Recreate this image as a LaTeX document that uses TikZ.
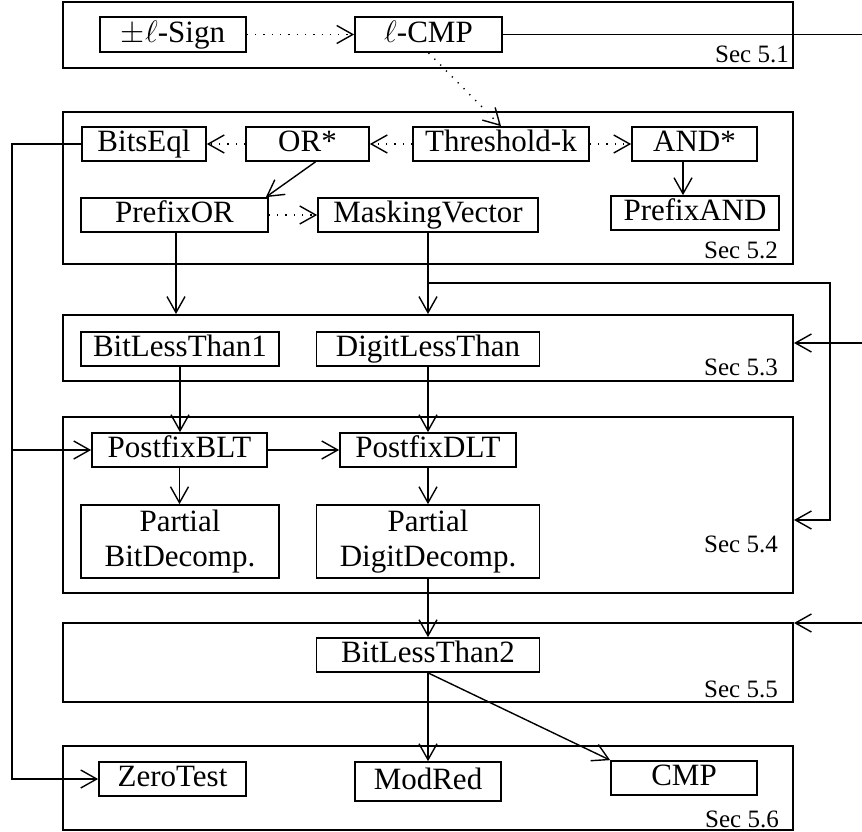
\RequirePackage{fix-cm}
\documentclass[tikz,border=0pt]{standalone}
\usepackage{fontspec}
\setmainfont{Liberation Serif}
\usetikzlibrary{arrows.meta}
\begin{document}
\begin{tikzpicture}[x=1pt,y=-1pt,
  box/.style={draw, line width=1.7pt, inner sep=0pt, font=\fontsize{31}{35}\selectfont, text height=19.5pt, text depth=4pt},
  mbox/.style={draw, line width=1.7pt, inner sep=0pt, font=\fontsize{31}{35}\selectfont, align=center},
  sec/.style={draw, line width=2pt, minimum width=730pt, inner sep=0pt},
  lbl/.style={font=\fontsize{25}{30}\selectfont, inner sep=0pt, anchor=base east},
  ln/.style={line width=1.4pt},
  arr/.style={ln, -{Straight Barb[length=16pt,width=18pt]}},
  dotarr/.style={arr, dash pattern=on 1.3pt off 7pt}]
\useasboundingbox (0,0) rectangle (862,832);

% sections
\node[sec, minimum height=66pt]  (s1) at (428,35) {};
\node[sec, minimum height=152pt] (s2) at (428,188) {};
\node[sec, minimum height=66pt]  (s3) at (428,348) {};
\node[sec, minimum height=176pt] (s4) at (428,505) {};
\node[sec, minimum height=79pt]  (s5) at (428,662.5) {};
\node[sec, minimum height=84pt]  (s6) at (428,788) {};

\node[lbl] (l51) at (789,63) {Sec 5.1};
\node[lbl] (l52) at (778,258) {Sec 5.2};
\node[lbl] (l53) at (778,375) {Sec 5.3};
\node[lbl] (l54) at (778,552) {Sec 5.4};
\node[lbl] (l55) at (778,697) {Sec 5.5};
\node[lbl] (l56) at (779,827) {Sec 5.6};

% boxes
\node[box, minimum width=146pt, minimum height=35pt] (sign) at (173,34.5) {$\pm\ell$-Sign};
\node[box, minimum width=147pt, minimum height=35pt] (lcmp) at (428.5,34.5) {$\ell$-CMP};

\node[box, minimum width=124pt, minimum height=34pt] (bitseql) at (144,144) {BitsEql};
\node[box, minimum width=123pt, minimum height=34pt] (or) at (307.5,144) {OR*};
\node[box, minimum width=176pt, minimum height=34pt] (thr) at (501,144) {Threshold-k};
\node[box, minimum width=125pt, minimum height=34pt] (and) at (694.5,144) {AND*};
\node[box, minimum width=187pt, minimum height=34pt] (pfor) at (174.5,215) {PrefixOR};
\node[box, minimum width=220pt, minimum height=34pt] (mask) at (428,215) {MaskingVector};
\node[box, minimum width=168pt, minimum height=34pt] (pfand) at (695,213) {PrefixAND};

\node[box, minimum width=198pt, minimum height=34pt] (blt1) at (180,349) {BitLessThan1};
\node[box, minimum width=223pt, minimum height=34pt] (dlt) at (428,349) {DigitLessThan};

\node[box, minimum width=175pt, minimum height=34pt] (pblt) at (179.5,450) {PostfixBLT};
\node[box, minimum width=176pt, minimum height=34pt] (pdlt) at (428,450) {PostfixDLT};
\node[mbox, minimum width=198pt, minimum height=73pt] (pbd) at (180,541.5) {Partial\\BitDecomp.};
\node[mbox, minimum width=223pt, minimum height=73pt] (pdd) at (428,541.5) {Partial\\DigitDecomp.};

\node[box, minimum width=223pt, minimum height=34pt] (blt2) at (428,655) {BitLessThan2};

\node[box, minimum width=147pt, minimum height=34pt] (zero) at (172.5,779) {ZeroTest};
\node[box, minimum width=146pt, minimum height=39pt] (modred) at (428,781.5) {ModRed};
\node[box, minimum width=146pt, minimum height=34pt] (cmp) at (684,778) {CMP};

% helper coordinates
\coordinate (e1) at (862,34.5);
\coordinate (in3) at (862,343);
\coordinate (in5) at (862,623);
\coordinate (mbr) at (428,283);
\coordinate (rr1) at (830,283);
\coordinate (rr2) at (830,520);
\coordinate (lt) at (12,144);
\coordinate (lb) at (12,779);
\coordinate (lm) at (12,450);

% connectors
\draw[dotarr] (sign) -- (lcmp);
\draw[ln] (lcmp.east) -- (e1);
\draw[dotarr] (lcmp.south) -- (thr.north);
\draw[dotarr] (thr) -- (or);
\draw[dotarr] (or) -- (bitseql);
\draw[dotarr] (thr) -- (and);
\draw[arr] ([xshift=8pt]or.south) -- ([xshift=-3pt]pfor.north east);
\draw[arr] ([xshift=-11.5pt]and.south) -- ([xshift=-11.5pt]and.south |- pfand.north);
\draw[dotarr] (pfor) -- (mask);
\draw[arr] ([xshift=1.5pt]pfor.south) -- ([xshift=1.5pt]pfor.south |- s3.north);
\draw[arr] (mask.south) -- (mask.south |- s3.north);
\draw[arr] (mbr) -- (rr1) -- (rr2) -- (rr2 -| s4.east);
\draw[arr] (in3) -- (in3 -| s3.east);
\draw[arr] (in5) -- (in5 -| s5.east);

\draw[arr] (blt1.south) -- (blt1.south |- pblt.north);
\draw[arr] (dlt.south) -- (pdlt.north);
\draw[arr] (pblt) -- (pdlt);
\draw[arr] (pblt.south) -- (pblt.south |- pbd.north);
\draw[arr] (pdlt.south) -- (pdd.north);
\draw[arr] (pdd.south) -- (blt2.north);
\draw[arr] (blt2.south) -- (modred.north);
\draw[arr] (blt2.south) -- (cmp.north west);

\draw[arr] (bitseql.west) -- (lt) -- (lb) -- (zero.west);
\draw[arr] (lm) -- (pblt.west);
\end{tikzpicture}
\end{document}
